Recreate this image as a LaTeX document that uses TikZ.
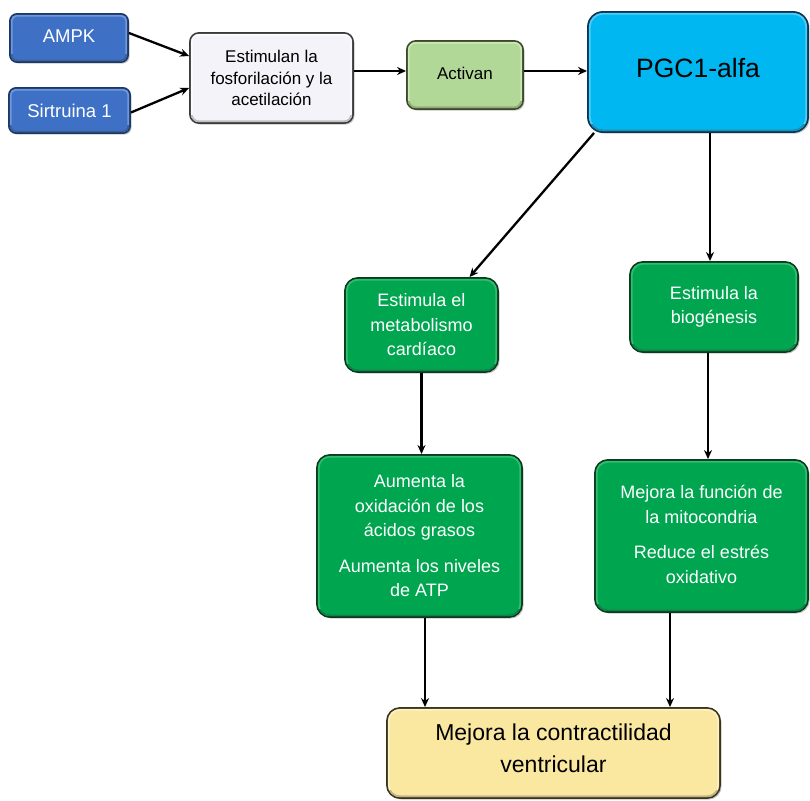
\documentclass[tikz,border=0pt]{standalone}
\usepackage{fontspec}
\setmainfont{Liberation Sans}
\usetikzlibrary{arrows.meta,shadows}

\definecolor{bluefill}{HTML}{3E70C6}
\definecolor{blueline}{HTML}{1D3868}
\definecolor{bluehi}{HTML}{7AA2E0}
\definecolor{palefill}{HTML}{F3F3F9}
\definecolor{paleline}{HTML}{3A3A3A}
\definecolor{palehi}{HTML}{FFFFFF}
\definecolor{limefill}{HTML}{B2D898}
\definecolor{limeline}{HTML}{3A4A25}
\definecolor{limehi}{HTML}{D3EBC2}
\definecolor{cyanfill}{HTML}{00B7F1}
\definecolor{cyanline}{HTML}{0C3550}
\definecolor{cyanhi}{HTML}{5FD3FF}
\definecolor{greenfill}{HTML}{00A550}
\definecolor{greenline}{HTML}{0B3A1E}
\definecolor{greenhi}{HTML}{3CC57A}
\definecolor{creamfill}{HTML}{FAE7A0}
\definecolor{creamline}{HTML}{3C3418}
\definecolor{creamhi}{HTML}{FFF5CF}

% lift text inside a box without changing the box's reported size
\newcommand{\liftby}[2]{\raisebox{#1}[\height][\depth]{#2}}

\begin{document}
\begin{tikzpicture}[x=1pt,y=-1pt,
  box/.style={rounded corners=#1, line width=1.9pt, align=center, inner sep=0pt,
    drop shadow={shadow xshift=1.6pt,shadow yshift=-1.6pt,opacity=0.45}},
  box/.default=10pt,
  bluebox/.style={box=7pt, fill=bluefill, draw=blueline, text=white,
    font=\fontsize{18.5}{22}\selectfont},
  palebox/.style={box=9pt, fill=palefill, draw=paleline, text=black,
    font=\fontsize{17}{21.5}\selectfont},
  limebox/.style={box=9pt, fill=limefill, draw=limeline, text=black,
    font=\fontsize{17}{21}\selectfont},
  cyanbox/.style={box=15pt, fill=cyanfill, draw=cyanline, text=black,
    font=\fontsize{26.5}{30}\selectfont},
  greenbox/.style={box=13pt, fill=greenfill, draw=greenline, text=white,
    font=\fontsize{18}{24.5}\selectfont},
  creambox/.style={box=13pt, fill=creamfill, draw=creamline, text=black,
    font=\fontsize{23}{32}\selectfont},
  arr/.style={-{Stealth[length=9pt,width=8pt]}, line width=2.3pt, black},
  rim/.style={line width=1.8pt, opacity=0.8}
]
\useasboundingbox (0,0) rectangle (810,800);

% upstream signals
\node[bluebox, minimum width=118pt, minimum height=48pt] (ampk) at (69,38) {\liftby{2pt}{AMPK}};
\node[bluebox, minimum width=121pt, minimum height=45pt] (sirt) at (69.5,110.5) {Sirtruina 1};
\node[palebox, minimum width=163pt, minimum height=90pt] (estim) at (271.5,78)
  {Estimulan la\\fosforilación y la\\acetilación};
\node[limebox, minimum width=116pt, minimum height=68pt] (activ) at (465,75) {\liftby{2pt}{Activan}};
\node[cyanbox, minimum width=220pt, minimum height=120pt] (pgc) at (698,72)
  {\liftby{4pt}{PGC1-alfa}};

% downstream effects
\node[greenbox, minimum width=153pt, minimum height=94pt] (meta) at (421.5,325)
  {Estimula el\\metabolismo\\cardíaco};
\node[greenbox, minimum width=168pt, minimum height=90pt] (bio) at (714,307)
  {Estimula la\\biogénesis};
\node[greenbox, minimum width=205pt, minimum height=162pt] (aum) at (419.5,536)
  {Aumenta la\\oxidación de los\\ácidos grasos\\[11pt]Aumenta los niveles\\de ATP};
\node[greenbox, minimum width=213pt, minimum height=152pt] (mej) at (701.5,536)
  {\liftby{1.5pt}{\parbox{210pt}{\centering Mejora la función de\\la mitocondria\\[11pt]Reduce el estrés\\oxidativo}}};
\node[creambox, minimum width=333pt, minimum height=90pt] (fin) at (553.5,753)
  {\liftby{5pt}{\parbox{330pt}{\centering Mejora la contractilidad\\ventricular}}};

% bevel: light rim all round, darker rim along the lower edge
\foreach \n/\f/\c/\r in {ampk/bluefill/bluehi/5, sirt/bluefill/bluehi/5,
    estim/palefill/palehi/7, activ/limefill/limehi/7, pgc/cyanfill/cyanhi/13,
    meta/greenfill/greenhi/11, bio/greenfill/greenhi/11, aum/greenfill/greenhi/11,
    mej/greenfill/greenhi/11, fin/creamfill/creamhi/11}
{
  \draw[rim, \c, rounded corners=\r pt]
    ([shift={(2.7pt,-2.7pt)}]\n.north west) rectangle ([shift={(-2.7pt,2.7pt)}]\n.south east);
  \begin{scope}
    \clip ([yshift=8pt]\n.south west) rectangle ([yshift=-1pt]\n.south east);
    \draw[rim, \f!72!black, rounded corners=\r pt]
      ([shift={(2.7pt,-2.7pt)}]\n.north west) rectangle ([shift={(-2.7pt,2.7pt)}]\n.south east);
  \end{scope}
}

% connectors
\draw[arr] ([yshift=5pt]ampk.east) -- ([yshift=22pt]estim.west);
\draw[arr] ([yshift=-2pt]sirt.east) -- ([yshift=-10pt]estim.west);
\draw[arr] ([yshift=4pt]estim.east |- activ.west) -- ([yshift=4pt]activ.west);
\draw[arr] ([yshift=4pt]activ.east) -- ([yshift=4pt]activ.east -| pgc.west);
\draw[arr] ([xshift=7pt]pgc.south west) -- ([xshift=48pt]meta.north);
\draw[arr] ([xshift=12pt]pgc.south) -- ([xshift=12pt]pgc.south |- bio.north);
\draw[arr] (meta.south) -- (meta.south |- aum.north);
\draw[arr] ([xshift=-6pt]bio.south) -- ([xshift=-6pt]bio.south |- mej.north);
\draw[arr] ([xshift=5.5pt]aum.south) -- ([xshift=5.5pt]aum.south |- fin.north);
\draw[arr] ([xshift=-31.5pt]mej.south) -- ([xshift=-31.5pt]mej.south |- fin.north);
\end{tikzpicture}
\end{document}
